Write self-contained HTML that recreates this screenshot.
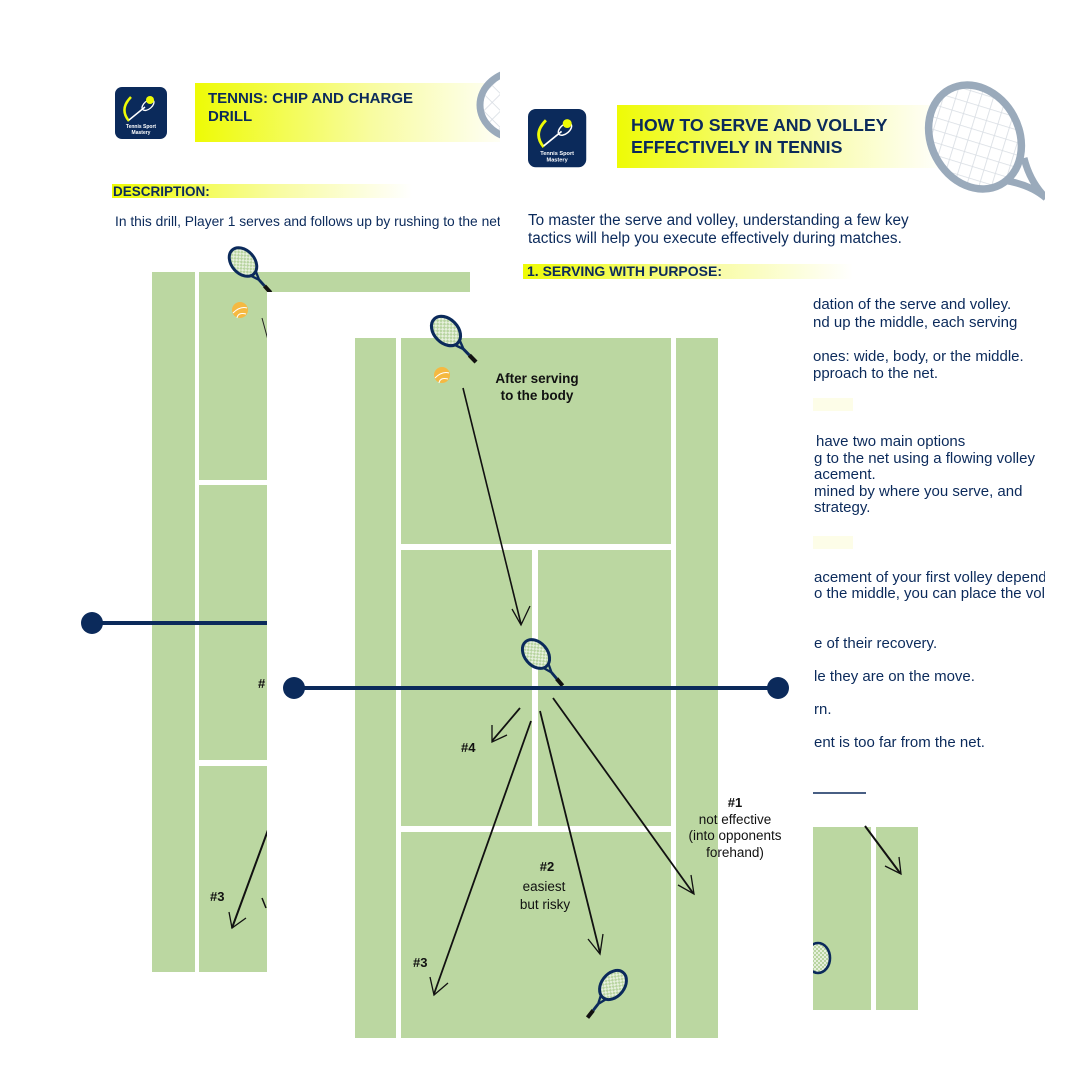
<!DOCTYPE html>
<html><head><meta charset="utf-8">
<style>
html,body{margin:0;padding:0;background:#fff;}
svg{display:block;}
text{font-family:"Liberation Sans",sans-serif;}
</style></head>
<body>
<svg width="1080" height="1080" viewBox="0 0 1080 1080" xmlns="http://www.w3.org/2000/svg">
<defs>
  <linearGradient id="yg" x1="0" x2="1" y1="0" y2="0">
    <stop offset="0" stop-color="#eefb05"/>
    <stop offset="0.55" stop-color="#f8fca0"/>
    <stop offset="1" stop-color="#ffffff"/>
  </linearGradient>
  <pattern id="mesh" width="4" height="4" patternUnits="userSpaceOnUse">
    <rect width="4" height="4" fill="#e6f0dc"/>
    <rect width="2" height="2" fill="#b8d4a0"/>
    <rect x="2" y="2" width="2" height="2" fill="#b8d4a0"/>
  </pattern>
  <pattern id="gmesh" width="12" height="12" patternUnits="userSpaceOnUse" patternTransform="rotate(45)">
    <rect width="12" height="12" fill="#fff"/>
    <path d="M0 0H12M0 0V12" stroke="#d8dde3" stroke-width="1.6"/>
  </pattern>
  <g id="rk">
    <ellipse cx="0" cy="0" rx="10" ry="14" fill="url(#mesh)" stroke="#0b2a5b" stroke-width="2.6"/>
    <line x1="-3" y1="13" x2="0" y2="21" stroke="#0b2a5b" stroke-width="2"/>
    <line x1="3" y1="13" x2="0" y2="21" stroke="#0b2a5b" stroke-width="2"/>
    <line x1="0" y1="21" x2="0" y2="28" stroke="#0b2a5b" stroke-width="2.5"/>
    <line x1="0" y1="28" x2="0" y2="36" stroke="#111" stroke-width="3.5"/>
  </g>
  <g id="ball">
    <circle r="8" fill="#f5b942"/>
    <path d="M-7 3 Q0 -4 7 -2" stroke="#fff" stroke-width="1" fill="none"/>
    <path d="M-3 8 Q-2 2 6 4" stroke="#fff" stroke-width="1" fill="none"/>
  </g>
  <g id="logo">
    <rect x="0" y="0" width="52" height="52" rx="7" fill="#0b2a5b"/>
    <path d="M16 10 Q4 22 14 34" stroke="#eefb05" stroke-width="2.5" fill="none"/>
    <line x1="14" y1="33" x2="30" y2="20" stroke="#fff" stroke-width="1.5"/>
    <ellipse cx="33" cy="18" rx="7" ry="4" transform="rotate(-40 33 18)" fill="none" stroke="#fff" stroke-width="1.3"/>
    <circle cx="35" cy="13" r="4" fill="#eefb05"/>
    <text x="26" y="41" font-size="5" fill="#fff" font-weight="bold" text-anchor="middle">Tennis Sport</text>
    <text x="26" y="47" font-size="5" fill="#fff" font-weight="bold" text-anchor="middle">Mastery</text>
  </g>
  <clipPath id="cp1"><rect x="0" y="0" width="500" height="1080"/></clipPath>
  <clipPath id="cp2"><rect x="500" y="0" width="545" height="1080"/></clipPath>
</defs>

<!-- PAGE 1 (back left) -->
<g clip-path="url(#cp1)">
  <use href="#logo" x="115" y="87"/>
  <rect x="195" y="83" width="320" height="59" fill="url(#yg)"/>
  <text x="208" y="103" font-size="15" font-weight="bold" fill="#0b2a5b">TENNIS: CHIP AND CHARGE</text>
  <text x="208" y="121" font-size="15" font-weight="bold" fill="#0b2a5b">DRILL</text>
  <ellipse cx="520" cy="105" rx="40" ry="34" fill="url(#gmesh)" stroke="#9aaabb" stroke-width="7"/>
  <rect x="112" y="184" width="300" height="14" fill="url(#yg)"/>
  <text x="113" y="196" font-size="13.5" font-weight="bold" fill="#0b2a5b">DESCRIPTION:</text>
  <text x="115" y="226" font-size="13.8" fill="#0b2a5b">In this drill, Player 1 serves and follows up by rushing to the net</text>

  <!-- left court -->
  <rect x="152" y="272" width="43" height="700" fill="#bbd7a1"/>
  <rect x="199" y="272" width="271" height="20" fill="#bbd7a1"/>
  <rect x="199" y="272" width="68" height="208" fill="#bbd7a1"/>
  <rect x="199" y="485" width="68" height="275" fill="#bbd7a1"/>
  <rect x="199" y="766" width="68" height="206" fill="#bbd7a1"/>
  <line x1="92" y1="623" x2="267" y2="623" stroke="#0b2a5b" stroke-width="4"/>
  <circle cx="92" cy="623" r="11" fill="#0b2a5b"/>
  <use href="#rk" transform="translate(243,262) rotate(-42) scale(1.15)"/>
  <use href="#ball" x="240" y="310"/>
  <line x1="262" y1="318" x2="268" y2="340" stroke="#222" stroke-width="1"/>
  <text x="258" y="688" font-size="13" font-weight="bold" fill="#111">#</text>
  <text x="210" y="901" font-size="13" font-weight="bold" fill="#111">#3</text>
  <line x1="268" y1="830" x2="232" y2="928" stroke="#111" stroke-width="2"/>
  <path d="M229 912 L232 928 L246 918" stroke="#111" stroke-width="1.3" fill="none"/>
  <path d="M262 898 L266 908" stroke="#111" stroke-width="1.5"/>
</g>

<!-- PAGE 2 (right) -->
<g clip-path="url(#cp2)">
  <rect x="500" y="60" width="545" height="1000" fill="#fff"/>
  <use href="#logo" transform="translate(528,109) scale(1.12)"/>
  <rect x="617" y="105" width="330" height="63" fill="url(#yg)"/>
  <text x="631" y="131" font-size="17.8" font-weight="bold" fill="#0b2a5b">HOW TO SERVE AND VOLLEY</text>
  <text x="631" y="153" font-size="17.8" font-weight="bold" fill="#0b2a5b">EFFECTIVELY IN TENNIS</text>
  <path d="M1002 180 Q1030 184 1046 198 M1024 158 Q1030 182 1046 198" stroke="#9aaabb" stroke-width="7" fill="none"/>
  <ellipse cx="975" cy="137" rx="44" ry="54" transform="rotate(-28 975 137)" fill="url(#gmesh)" stroke="#9aaabb" stroke-width="7.5"/>
  <text x="528" y="225" font-size="15.3" fill="#0b2a5b">To master the serve and volley, understanding a few key</text>
  <text x="528" y="243" font-size="15.3" fill="#0b2a5b">tactics will help you execute effectively during matches.</text>
  <rect x="523" y="264" width="330" height="15" fill="url(#yg)"/>
  <text x="527" y="276" font-size="14" font-weight="bold" fill="#0b2a5b">1. SERVING WITH PURPOSE:</text>
  <g font-size="15" fill="#0b2a5b">
    <text x="813" y="309">dation of the serve and volley.</text>
    <text x="813" y="327">nd up the middle, each serving</text>
    <text x="813" y="361">ones: wide, body, or the middle.</text>
    <text x="813" y="378">pproach to the net.</text>
    <text x="816" y="446">have two main options</text>
    <text x="814" y="463">g to the net using a flowing volley</text>
    <text x="814" y="479">acement.</text>
    <text x="814" y="496">mined by where you serve, and</text>
    <text x="814" y="512">strategy.</text>
    <text x="814" y="582">acement of your first volley depends</text>
    <text x="814" y="598">o the middle, you can place the volley</text>
    <text x="814" y="648">e of their recovery.</text>
    <text x="814" y="681">le they are on the move.</text>
    <text x="814" y="714">rn.</text>
    <text x="814" y="747">ent is too far from the net.</text>
  </g>
  <rect x="813" y="398" width="40" height="13" fill="#fdfde8"/>
  <rect x="813" y="536" width="40" height="13" fill="#fdfde8"/>
  <line x1="813" y1="793" x2="866" y2="793" stroke="#0b2a5b" stroke-width="1.5"/>
  <rect x="813" y="827" width="58" height="183" fill="#bbd7a1"/>
  <rect x="876" y="827" width="42" height="183" fill="#bbd7a1"/>
  <line x1="865" y1="826" x2="900" y2="873" stroke="#111" stroke-width="2"/>
  <path d="M885 866 L901 874 L899 857" stroke="#111" stroke-width="1.3" fill="none"/>
  <ellipse cx="818" cy="958" rx="12" ry="15" fill="url(#mesh)" stroke="#0b2a5b" stroke-width="2.6"/>
</g>

<!-- FRONT PANEL (court diagram) -->
<rect x="267" y="292" width="546" height="755" fill="#fff"/>
<rect x="355" y="338" width="41" height="700" fill="#bbd7a1"/>
<rect x="401" y="338" width="270" height="206" fill="#bbd7a1"/>
<rect x="401" y="550" width="131" height="276" fill="#bbd7a1"/>
<rect x="538" y="550" width="133" height="276" fill="#bbd7a1"/>
<rect x="401" y="832" width="270" height="206" fill="#bbd7a1"/>
<rect x="676" y="338" width="42" height="700" fill="#bbd7a1"/>

<use href="#rk" transform="translate(446,331) rotate(-44) scale(1.2)"/>
<use href="#ball" x="442" y="375"/>
<text x="537" y="383" font-size="13.5" font-weight="bold" fill="#111" text-anchor="middle">After serving</text>
<text x="537" y="400" font-size="13.5" font-weight="bold" fill="#111" text-anchor="middle">to the body</text>
<line x1="463" y1="388" x2="521" y2="624" stroke="#111" stroke-width="1.6"/>
<path d="M512 609 L521 625 L530 606" stroke="#111" stroke-width="1.3" fill="none"/>

<use href="#rk" transform="translate(536,654) rotate(-40) scale(1.15)"/>

<line x1="294" y1="688" x2="778" y2="688" stroke="#0b2a5b" stroke-width="4"/>
<circle cx="294" cy="688" r="11" fill="#0b2a5b"/>
<circle cx="778" cy="688" r="11" fill="#0b2a5b"/>

<!-- #4 -->
<line x1="520" y1="708" x2="492" y2="741" stroke="#111" stroke-width="1.8"/>
<path d="M492 725 L492 742 L507 735" stroke="#111" stroke-width="1.3" fill="none"/>
<text x="461" y="752" font-size="13" font-weight="bold" fill="#111">#4</text>
<!-- #3 -->
<line x1="531" y1="721" x2="434" y2="994" stroke="#111" stroke-width="1.8"/>
<path d="M430 977 L434 995 L448 983" stroke="#111" stroke-width="1.3" fill="none"/>
<text x="413" y="967" font-size="13" font-weight="bold" fill="#111">#3</text>
<!-- #2 -->
<line x1="540" y1="711" x2="600" y2="953" stroke="#111" stroke-width="1.8"/>
<path d="M588 939 L600 954 L603 934" stroke="#111" stroke-width="1.3" fill="none"/>
<text x="547" y="871" font-size="13" font-weight="bold" fill="#111" text-anchor="middle">#2</text>
<text x="544" y="891" font-size="13.5" fill="#111" text-anchor="middle">easiest</text>
<text x="545" y="909" font-size="13.5" fill="#111" text-anchor="middle">but risky</text>
<!-- #1 -->
<line x1="553" y1="698" x2="693" y2="893" stroke="#111" stroke-width="1.8"/>
<path d="M678 885 L694 894 L691 875" stroke="#111" stroke-width="1.3" fill="none"/>
<text x="735" y="807" font-size="13" font-weight="bold" fill="#111" text-anchor="middle">#1</text>
<text x="735" y="824" font-size="13.5" fill="#111" text-anchor="middle">not effective</text>
<text x="735" y="840" font-size="13.5" fill="#111" text-anchor="middle">(into opponents</text>
<text x="735" y="857" font-size="13.5" fill="#111" text-anchor="middle">forehand)</text>

<use href="#rk" transform="translate(613,985) rotate(38) scale(1.15)"/>
</svg>
</body></html>
